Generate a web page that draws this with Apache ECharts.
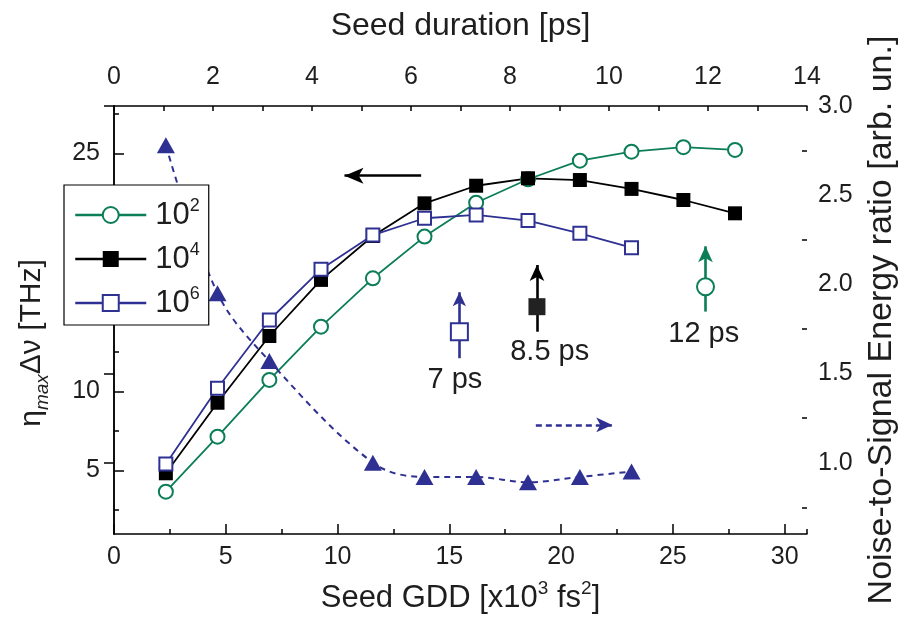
<!DOCTYPE html>
<html lang="en">
<head>
	<meta charset="UTF-8">
	<title>Seed GDD</title>
	<script src="https://cdn.jsdelivr.net/npm/echarts@6/dist/echarts.min.js"></script>
	<style>
		html,body{margin:0;height:100%;background:#fff;}
		#chart{width:907px;height:628px;}
	</style>
</head>
<body>
	<div id="chart"></div>
<script>
	// Seed GDD [x10^3 fs^2] of each simulated point
	var gdd = [2.32, 4.63, 6.95, 9.26, 11.58, 13.89, 16.2, 18.52, 20.84, 23.15, 25.47, 27.78];
	// eta_max * delta nu [THz] for the three gains
	var eta1e2 = [3.67, 7.14, 10.72, 14.08, 17.13, 19.76, 21.90, 23.38, 24.55, 25.12, 25.40, 25.23];
	var eta1e4 = [4.83, 9.28, 13.49, 17.03, 19.80, 21.86, 22.97, 23.44, 23.33, 22.77, 22.07, 21.23];
	var eta1e6 = [5.42, 10.19, 14.50, 17.70, 19.86, 20.92, 21.13, 20.77, 19.97, 19.06];
	// noise-to-signal energy ratio (right axis)
	var noiseGdd = [2.32, 4.63, 6.95, 11.58, 13.89, 16.2, 18.52, 20.84, 23.15];
	var noiseRatio = [2.78, 1.95, 1.57, 1.00, 0.92, 0.92, 0.89, 0.92, 0.95];
	// tick values
	var leftMajor = [5, 10, 15, 20, 25];
	var leftMinor = [2.5, 7.5, 12.5, 17.5, 22.5, 27.5];
	var rightMajor = [1.0, 1.5, 2.0, 2.5, 3.0];
	var rightMinor = [0.75, 1.25, 1.75, 2.25, 2.75];

	var FONT = 'Liberation Sans';
	var GREEN = '#0b7d57', BLUE = '#2e3192', BLACK = '#000';
	var TXT = '#1e1e1e';

	function pairs(xs, ys){
		var out = [];
		for (var i = 0; i < ys.length; i++) out.push([xs[i], ys[i]]);
		return out;
	}

	var lineAx = {show:true, lineStyle:{color:'#000', width:1.5}};
	function tick(len, vals){
		var t = {show:true, inside:true, length:len, lineStyle:{color:'#000', width:1.5}};
		if (vals) t.customValues = vals;
		return t;
	}

	var option = {
		animation:false,
		grid:{left:114, right:98, top:106, bottom:94},
		legend:{
			orient:'vertical',
			left:64, top:185,
			padding:[12, 9, 4, 10],
			itemGap:8,
			itemWidth:71, itemHeight:20,
			backgroundColor:'#fff',
			borderColor:'#000', borderWidth:1.2,
			lineStyle:{width:2.5},
			data:['10^2','10^4','10^6'],
			formatter:function(n){ return '10{sup|' + n.split('^')[1] + '}'; },
			textStyle:{fontSize:31, lineHeight:36, fontFamily:FONT, color:TXT, padding:[0,0,0,4],
				rich:{sup:{fontSize:18, lineHeight:18, verticalAlign:'top', fontFamily:FONT, color:TXT}}}
		}
	};

	option.xAxis = [{
		type:'value', position:'bottom', min:0, max:31, interval:5,
		axisLine:lineAx, axisTick:tick(10), splitLine:{show:false},
		axisLabel:{fontSize:25, fontFamily:FONT, color:TXT, margin:11, showMaxLabel:false},
		name:'Seed GDD [x10{sup|3} fs{sup|2}]', nameLocation:'middle', nameGap:45,
		nameTextStyle:{fontSize:31, lineHeight:38, fontFamily:FONT, color:TXT,
			rich:{sup:{fontSize:19, lineHeight:19, verticalAlign:'top', fontFamily:FONT, color:TXT}}}
	},{
		type:'value', position:'top', min:0, max:14, interval:1,
		axisLine:lineAx, axisTick:tick(5), splitLine:{show:false},
		axisLabel:{fontSize:25, fontFamily:FONT, color:TXT, margin:16,
			formatter:function(v){ return v % 2 ? '' : v; }},
		name:'Seed duration [ps]', nameLocation:'middle', nameGap:64,
		nameTextStyle:{fontSize:32, fontFamily:FONT, color:TXT}
	},{
		// minor ticks of the bottom axis
		type:'value', position:'bottom', min:0, max:31, interval:2.5,
		axisLine:{show:false}, axisTick:tick(5), axisLabel:{show:false}, splitLine:{show:false}
	}];

	option.yAxis = [{
		type:'value', position:'left', min:1, max:28,
		axisLine:lineAx, axisTick:tick(10, leftMajor), splitLine:{show:false},
		axisLabel:{fontSize:25, fontFamily:FONT, color:TXT, margin:14, customValues:leftMajor},
		name:'η{s|max}Δν [THz]', nameLocation:'middle', nameGap:62,
		nameTextStyle:{fontSize:30, lineHeight:40, fontFamily:FONT, color:TXT, padding:[0,46,0,0],
			rich:{s:{fontSize:19, lineHeight:19, fontStyle:'italic', verticalAlign:'bottom', fontFamily:FONT, color:TXT}}}
	},{
		type:'value', position:'right', min:0.6, max:3.0,
		axisLine:lineAx, axisTick:tick(10, rightMajor), splitLine:{show:false},
		axisLabel:{fontSize:25, fontFamily:FONT, color:TXT, margin:11, customValues:rightMajor,
			formatter:function(v){ return v.toFixed(1); }},
		name:'Noise-to-Signal Energy ratio [arb. un.]', nameLocation:'middle', nameGap:58,
		nameTextStyle:{fontSize:34, fontFamily:FONT, color:TXT}
	},{
		type:'value', position:'left', min:1, max:28,
		axisLine:{show:false}, axisTick:tick(5, leftMinor), axisLabel:{show:false}, splitLine:{show:false}
	},{
		type:'value', position:'right', min:0.6, max:3.0,
		axisLine:{show:false}, axisTick:tick(5, rightMinor), axisLabel:{show:false}, splitLine:{show:false}
	}];

	function curve(name, data, color, symbol, size){
		return {
			name:name, type:'line', xAxisIndex:0, yAxisIndex:0,
			data:data, symbol:symbol, symbolSize:size, showAllSymbol:true,
			lineStyle:{color:color, width:1.8},
			itemStyle:{color:color}
		};
	}

	// annotation arrows and their markers, in (GDD, left axis) units
	var arrowLines = [
		{from:[13.74, 23.6], to:[10.31, 23.6], color:BLACK, size:[12, 19], dash:'solid'},
		{from:[18.87, 7.88], to:[22.29, 7.88], color:BLUE, size:[11, 16], dash:[6, 4]},
		{from:[15.45, 12.09], to:[15.45, 16.25], color:BLUE, size:[10, 14], dash:'solid'},
		{from:[18.92, 13.76], to:[18.92, 17.97], color:BLACK, size:[11, 16], dash:'solid'},
		{from:[26.46, 15.03], to:[26.46, 19.15], color:GREEN, size:[11, 16], dash:'solid'}
	];
	var arrowMarks = [
		{pos:[15.45, 13.76], symbol:'emptyRect', color:BLUE},
		{pos:[18.92, 15.34], symbol:'rect', color:'#222'},
		{pos:[26.46, 16.60], symbol:'emptyCircle', color:GREEN}
	];
	var arrowText = [
		{pos:[15.25, 10.72], text:'7 ps'},
		{pos:[19.49, 12.48], text:'8.5 ps'},
		{pos:[26.38, 13.62], text:'12 ps'}
	];

	option.series = [
		curve('10^2', pairs(gdd, eta1e2), GREEN, 'emptyCircle', 14),
		curve('10^4', pairs(gdd, eta1e4), BLACK, 'rect', 14),
		curve('10^6', pairs(gdd, eta1e6), BLUE, 'emptyRect', 13),
		{
			name:'noise', type:'line', xAxisIndex:0, yAxisIndex:1,
			data:pairs(noiseGdd, noiseRatio), smooth:0.35,
			symbol:'triangle', symbolSize:[18, 16],
			lineStyle:{color:BLUE, width:2, type:[6, 5]},
			itemStyle:{color:BLUE}
		},
		{
			name:'marks', type:'scatter', xAxisIndex:0, yAxisIndex:0, z:3,
			data:arrowMarks.map(function(m){
				return {value:m.pos, symbol:m.symbol, itemStyle:{color:m.color, opacity:1}};
			}),
			symbolSize:17,
			itemStyle:{opacity:1},
			markLine:{
				silent:true, z:1, animation:false,
				label:{show:false},
				data:arrowLines.map(function(a){
					return [
						{coord:a.from, symbol:'none', lineStyle:{color:a.color, width:2.6, type:a.dash, opacity:1}},
						{coord:a.to, symbol:'arrow', symbolSize:a.size}
					];
				})
			}
		},
		{
			name:'texts', type:'scatter', xAxisIndex:0, yAxisIndex:0,
			symbolSize:1, itemStyle:{color:'rgba(0,0,0,0)', opacity:1},
			data:arrowText.map(function(t){ return {value:t.pos, name:t.text}; }),
			label:{show:true, position:'inside', formatter:'{b}', fontSize:29, fontFamily:FONT, color:TXT}
		}
	];

	var myChart = echarts.init(document.getElementById('chart'));
	myChart.setOption(option);
</script>
</body>
</html>
